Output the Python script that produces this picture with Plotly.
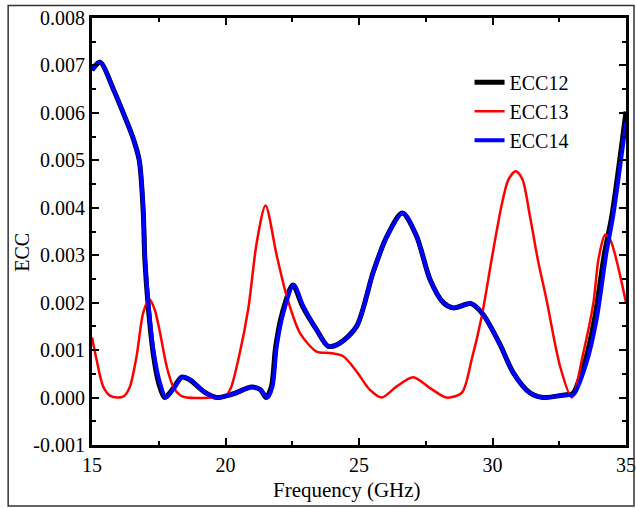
import plotly.graph_objects as go

# ---- data ----
freq_bk = [15.0, 15.3, 15.8, 16.17, 16.52, 16.77, 16.92, 16.98, 17.11, 17.3, 17.5, 17.72,
           18.05, 18.36, 18.67, 19.2, 19.67, 20.3, 20.98, 21.3, 21.52, 21.72, 21.88, 22.13,
           22.52, 22.88, 23.41, 23.85, 24.29, 24.91, 25.53, 26.03, 26.62, 27.15, 27.66,
           28.16, 28.53, 29.2, 29.65, 30.28, 30.78, 31.4, 31.9, 32.4, 32.78, 33.0, 33.45,
           33.82, 34.2, 34.47, 35.0]
ecc12 = [0.0069, 0.00707, 0.0065, 0.006, 0.0055, 0.005, 0.0039, 0.0029, 0.0019, 0.0009,
         0.0003, 0.0, 0.0002, 0.00043, 0.00037, 0.00012, 0.0, 0.00008, 0.00022, 0.00017,
         0.0, 0.00023, 0.00108, 0.00179, 0.00237, 0.00193, 0.00143, 0.00108, 0.00115,
         0.0015, 0.00264, 0.00338, 0.00389, 0.00341, 0.00249, 0.002, 0.00189, 0.00198,
         0.00175, 0.00112, 0.00052, 0.0001, 0.0, 0.00003, 0.00006, 0.00008, 0.00073,
         0.00165, 0.00306, 0.00383, 0.00603]

freq_bl = [15.0, 15.3, 15.8, 16.17, 16.52, 16.77, 16.92, 16.98, 17.11, 17.3, 17.55, 17.77,
           18.08, 18.38, 18.7, 19.2, 19.67, 20.3, 20.98, 21.3, 21.57, 21.76, 21.92, 22.17,
           22.56, 22.91, 23.41, 23.85, 24.29, 24.91, 25.53, 26.03, 26.65, 27.15, 27.66,
           28.16, 28.53, 29.22, 29.65, 30.28, 30.78, 31.4, 31.9, 32.4, 32.78, 33.03, 33.52,
           33.9, 34.27, 34.52, 35.0]
ecc14 = [0.0069, 0.00707, 0.0065, 0.006, 0.0055, 0.005, 0.004, 0.003, 0.002, 0.001,
         0.0003, 0.0, 0.0002, 0.00043, 0.00037, 0.00012, 0.0, 0.00008, 0.00022, 0.00017,
         0.0, 0.00023, 0.00108, 0.00179, 0.00237, 0.00193, 0.00143, 0.00108, 0.00115,
         0.0015, 0.00264, 0.00338, 0.00389, 0.00341, 0.00249, 0.002, 0.00189, 0.00198,
         0.00175, 0.00112, 0.00052, 0.0001, 0.0, 0.00003, 0.00006, 0.00006, 0.00073,
         0.00165, 0.00306, 0.00383, 0.0058]

freq_rd = [15.0, 15.17, 15.42, 15.67, 15.95, 16.2, 16.42, 16.67, 16.92, 17.15, 17.35,
           17.55, 17.8, 18.04, 18.3, 18.55, 19.5, 20.0, 20.2, 20.5, 20.85, 21.17, 21.5,
           21.92, 22.29, 22.79, 23.41, 23.91, 24.41, 24.91, 25.41, 25.85, 26.4, 27.03,
           27.66, 28.28, 28.85, 29.22, 29.6, 29.97, 30.34, 30.6, 30.87, 31.12, 31.4,
           31.7, 32.02, 32.53, 32.97, 33.4, 33.78, 33.97, 34.22, 34.4, 35.0]
ecc13 = [0.00127, 0.0008, 0.00023, 0.00004, 0.0, 0.00003, 0.00023, 0.00087, 0.00179,
         0.00207, 0.00185, 0.00136, 0.00065, 0.00023, 0.00005, 0.0, 0.0, 0.00003, 0.0002,
         0.00085, 0.00186, 0.00327, 0.00405, 0.00299, 0.00214, 0.00136, 0.00097, 0.00094,
         0.00087, 0.00055, 0.00016, 0.0, 0.00023, 0.00043, 0.0002, 0.0, 0.0001, 0.0008,
         0.00172, 0.00292, 0.00405, 0.0046, 0.00477, 0.0046, 0.00383, 0.0029, 0.00207,
         0.00066, 0.0, 0.00094, 0.002, 0.00292, 0.00343, 0.00334, 0.002]

y_ticks = [-0.001, 0.0, 0.001, 0.002, 0.003, 0.004, 0.005, 0.006, 0.007, 0.008]
y_labels = ["-0.001", "0.000", "0.001", "0.002", "0.003", "0.004", "0.005", "0.006",
            "0.007", "0.008"]
x_ticks = [15, 20, 25, 30, 35]
x_labels = ["15", "20", "25", "30", "35"]

FONT = "Liberation Serif"

fig = go.Figure()
fig.add_trace(go.Scatter(x=freq_bk, y=ecc12, name="ECC12", mode="lines",
                         line=dict(color="black", width=5, shape="spline", smoothing=0.8)))
fig.add_trace(go.Scatter(x=freq_rd, y=ecc13, name="ECC13", mode="lines",
                         line=dict(color="#ff0000", width=2.5, shape="spline", smoothing=0.8)))
fig.add_trace(go.Scatter(x=freq_bl, y=ecc14, name="ECC14", mode="lines",
                         line=dict(color="#0000ff", width=4, shape="spline", smoothing=0.8)))

axis_common = dict(showline=True, linecolor="black", linewidth=3, mirror="allticks",
                   ticks="inside", ticklen=7, tickwidth=2, tickcolor="black",
                   showgrid=False, zeroline=False, automargin=False,
                   tickfont=dict(family=FONT, size=20, color="black"))

fig.update_xaxes(range=[15, 35], tickvals=x_ticks, ticktext=x_labels,
                 minor=dict(dtick=2.5, ticks="inside", ticklen=4, tickwidth=2,
                            tickcolor="black"),
                 **axis_common)
fig.update_yaxes(range=[-0.001, 0.008], tickvals=y_ticks, ticktext=y_labels,
                 minor=dict(dtick=0.0005, ticks="inside", ticklen=4, tickwidth=2,
                            tickcolor="black"),
                 **axis_common)

# axis titles placed as annotations to match the reference offsets
fig.add_annotation(text="Frequency (GHz)", xref="paper", yref="paper",
                   x=(347 - 92) / 534, y=(445 - 490) / 426.5, showarrow=False,
                   xanchor="center", yanchor="middle",
                   font=dict(family=FONT, size=21, color="black"))
fig.add_annotation(text="ECC", xref="paper", yref="paper",
                   x=(22 - 92) / 534, y=(445 - 253) / 426.5, showarrow=False,
                   textangle=-90, xanchor="center", yanchor="middle",
                   font=dict(family=FONT, size=20, color="black"))

fig.add_shape(type="rect", xref="paper", yref="paper",
              x0=-0.157, x1=1.015, y0=-0.143, y1=1.029,
              line=dict(color="#333333", width=1.5), fillcolor="rgba(0,0,0,0)")

fig.update_layout(
    width=636, height=508,
    margin=dict(l=92, r=10, t=18, b=63),
    paper_bgcolor="white", plot_bgcolor="white",
    font=dict(family=FONT, color="black"),
    legend=dict(x=0.707, y=0.895, xanchor="left", yanchor="top",
                bgcolor="rgba(255,255,255,0)", borderwidth=0,
                font=dict(family=FONT, size=20, color="black")),
)

fig.write_html("out.html")
